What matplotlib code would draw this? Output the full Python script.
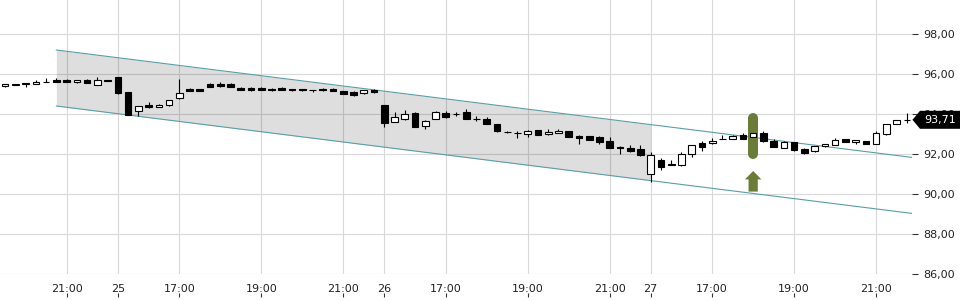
import matplotlib
matplotlib.use("Agg")
import matplotlib.pyplot as plt
import matplotlib.transforms as mtransforms
from matplotlib.patches import Polygon
import numpy as np

# --- data: 15-minute candles (index 0 = 24th, 19:30) ---
opens = [95.38, 95.47, 95.52, 95.52, 95.60, 95.72, 95.70, 95.58, 95.70, 95.47,
         95.69, 95.83, 95.10, 94.17, 94.46, 94.34, 94.43, 94.78, 95.27, 95.25,
         95.48, 95.50, 95.50, 95.32, 95.28, 95.32, 95.27, 95.31, 95.26, 95.26,
         95.21, 95.23, 95.25, 95.13, 95.10, 95.03, 95.20, 94.45, 93.62, 93.73,
         94.03, 93.40, 93.75, 94.05, 94.00, 94.08, 93.77, 93.77, 93.50, 93.10,
         93.07, 93.00, 93.18, 92.98, 93.05, 93.13, 92.92, 92.88, 92.83, 92.63,
         92.33, 92.30, 92.23, 91.00, 91.70, 91.47, 91.43, 91.98, 92.53, 92.53,
         92.75, 92.75, 92.97, 92.87, 93.05, 92.67, 92.30, 92.60, 92.27, 92.13,
         92.38, 92.45, 92.75, 92.60, 92.65, 92.50, 93.02, 93.52, 93.70]
highs = [95.52, 95.51, 95.53, 95.70, 95.78, 95.78, 95.74, 95.69, 95.75, 95.87,
         95.69, 95.84, 95.10, 94.42, 94.62, 94.50, 94.69, 95.76, 95.28, 95.26,
         95.57, 95.60, 95.56, 95.33, 95.35, 95.37, 95.28, 95.36, 95.27, 95.27,
         95.22, 95.28, 95.30, 95.14, 95.15, 95.21, 95.25, 94.46, 94.12, 94.20,
         94.10, 93.72, 94.17, 94.15, 94.10, 94.23, 93.88, 93.83, 93.51, 93.17,
         93.13, 93.18, 93.19, 93.25, 93.25, 93.14, 92.97, 92.89, 92.90, 92.85,
         92.40, 92.43, 92.43, 92.10, 91.80, 91.72, 92.12, 92.43, 92.67, 92.80,
         92.97, 92.97, 93.07, 93.06, 93.13, 92.75, 92.65, 92.61, 92.28, 92.38,
         92.49, 92.80, 92.76, 92.68, 92.66, 93.13, 93.52, 93.70, 94.07]
lows = [95.36, 95.46, 95.34, 95.52, 95.59, 95.61, 95.60, 95.57, 95.53, 95.46,
        95.67, 95.02, 93.93, 93.92, 94.32, 94.33, 94.42, 94.77, 95.14, 95.16,
        95.36, 95.37, 95.36, 95.19, 95.17, 95.21, 95.17, 95.21, 95.17, 95.17,
        95.10, 95.17, 95.16, 95.01, 94.92, 95.02, 95.07, 93.35, 93.61, 93.72,
        93.36, 93.27, 93.74, 93.80, 93.88, 93.76, 93.63, 93.51, 93.12, 93.03,
        92.80, 92.83, 92.96, 92.97, 93.04, 92.86, 92.48, 92.71, 92.50, 92.29,
        92.00, 92.10, 91.90, 90.62, 91.20, 91.46, 91.42, 91.83, 92.17, 92.52,
        92.74, 92.74, 92.73, 92.86, 92.62, 92.34, 92.29, 92.15, 92.02, 92.12,
        92.37, 92.44, 92.61, 92.50, 92.49, 92.49, 92.93, 93.51, 93.53]
closes = [95.50, 95.49, 95.52, 95.62, 95.61, 95.62, 95.62, 95.68, 95.54, 95.68,
          95.67, 95.03, 93.95, 94.40, 94.34, 94.47, 94.68, 95.05, 95.15, 95.17,
          95.37, 95.38, 95.37, 95.20, 95.18, 95.22, 95.18, 95.22, 95.18, 95.18,
          95.19, 95.18, 95.17, 95.02, 94.93, 95.20, 95.12, 93.53, 93.87, 93.98,
          93.37, 93.63, 94.08, 93.83, 94.00, 93.77, 93.76, 93.52, 93.13, 93.09,
          93.03, 93.17, 92.97, 93.08, 93.17, 92.87, 92.80, 92.72, 92.60, 92.30,
          92.32, 92.17, 91.97, 91.93, 91.37, 91.48, 92.02, 92.43, 92.33, 92.65,
          92.76, 92.88, 92.77, 93.05, 92.63, 92.35, 92.58, 92.22, 92.03, 92.38,
          92.48, 92.72, 92.62, 92.68, 92.50, 93.05, 93.52, 93.70, 93.71]

tick_pos = [6, 11, 17, 25, 33, 37, 43, 51, 59, 63, 69, 77, 85]
tick_labels = ['21:00', '25', '17:00', '19:00', '21:00', '26', '17:00',
               '19:00', '21:00', '27', '17:00', '19:00', '21:00']
y_ticks = [86, 88, 90, 92, 94, 96, 98]

# trend channel (two end points each) and the shaded part of it
channel_x = [5, 88.5]
channel_upper = [97.20, 91.83]
channel_lower = [94.40, 89.03]
shade_end = 63

# signal marker
signal_idx = 73
signal_range = [92.00, 93.82]
arrow_range = [90.12, 91.15]

teal = '#5a9ea5'
olive = '#6a7b3a'

fig = plt.figure(figsize=(9.6, 3.0), dpi=100)
ax = fig.add_axes([0.0, 26 / 300, 912 / 960, 274 / 300])

x = np.arange(len(opens))
o = np.array(opens)
c = np.array(closes)

# channel
ax.plot(channel_x, channel_upper, color=teal, lw=0.8, zorder=2)
ax.plot(channel_x, channel_lower, color=teal, lw=0.8, zorder=2)
xs = np.linspace(channel_x[0], shade_end, 50)
ax.fill_between(xs, np.interp(xs, channel_x, channel_lower),
                np.interp(xs, channel_x, channel_upper),
                color='k', alpha=0.13, lw=0, zorder=1.5)

# signal pill + arrow
ax.plot([signal_idx, signal_idx], signal_range, color=olive, lw=7.2,
        solid_capstyle='round', zorder=2.5)
ax.arrow(signal_idx, arrow_range[0], 0, arrow_range[1] - arrow_range[0],
         width=0.9, head_width=1.6, head_length=0.42,
         length_includes_head=True, color=olive, lw=0, zorder=2.5)

# candles
ax.vlines(x, lows, highs, color='black', lw=0.8, zorder=3)
body_bottom = np.minimum(o, c)
body_h = np.maximum(np.abs(c - o), 0.012)
face = ['white' if cc >= oo else 'black' for oo, cc in zip(o, c)]
ax.bar(x, body_h, bottom=body_bottom, width=0.65, color=face,
       edgecolor='black', lw=0.8, zorder=4)

ax.set_xlim(-0.5, 88.5)
ax.set_ylim(86, 99.7)

for s in ax.spines.values():
    s.set_visible(False)

ax.set_xticks(tick_pos)
ax.set_xticklabels(tick_labels)
ax.tick_params(axis='x', length=0, pad=7, labelsize=8, labelcolor='#222222')

ax.yaxis.tick_right()
ax.set_yticks(y_ticks)
ax.set_yticklabels([f'{v:.2f}'.replace('.', ',') for v in y_ticks])
ax.tick_params(axis='y', length=4, width=0.8, color='#333333', pad=4,
               labelsize=8, labelcolor='#222222')

ax.grid(True, color='#d9d9d9', lw=0.8, zorder=0)
ax.set_axisbelow(True)

# little tick marks below the time labels
sec = ax.secondary_xaxis(-23 / 274)
sec.set_xticks(tick_pos)
sec.tick_params(axis='x', direction='in', length=3, width=0.8,
                color='#333333', labelbottom=False)
for s in sec.spines.values():
    s.set_visible(False)

# last-price tag
last = closes[-1]
trans = mtransforms.blended_transform_factory(ax.transAxes, ax.transData)
half = 0.45
tag = Polygon([(1.0005, last), (1.0088, last + half), (1.06, last + half),
               (1.06, last - half), (1.0088, last - half)],
              closed=True, transform=trans, facecolor='black',
              edgecolor='none', clip_on=False, zorder=5)
ax.add_patch(tag)
ax.text(1.0305, last, f'{last:.2f}'.replace('.', ','), transform=trans,
        color='white', fontsize=8, ha='center', va='center', zorder=6,
        clip_on=False)

fig.savefig('out.png', dpi=100, facecolor='white')
